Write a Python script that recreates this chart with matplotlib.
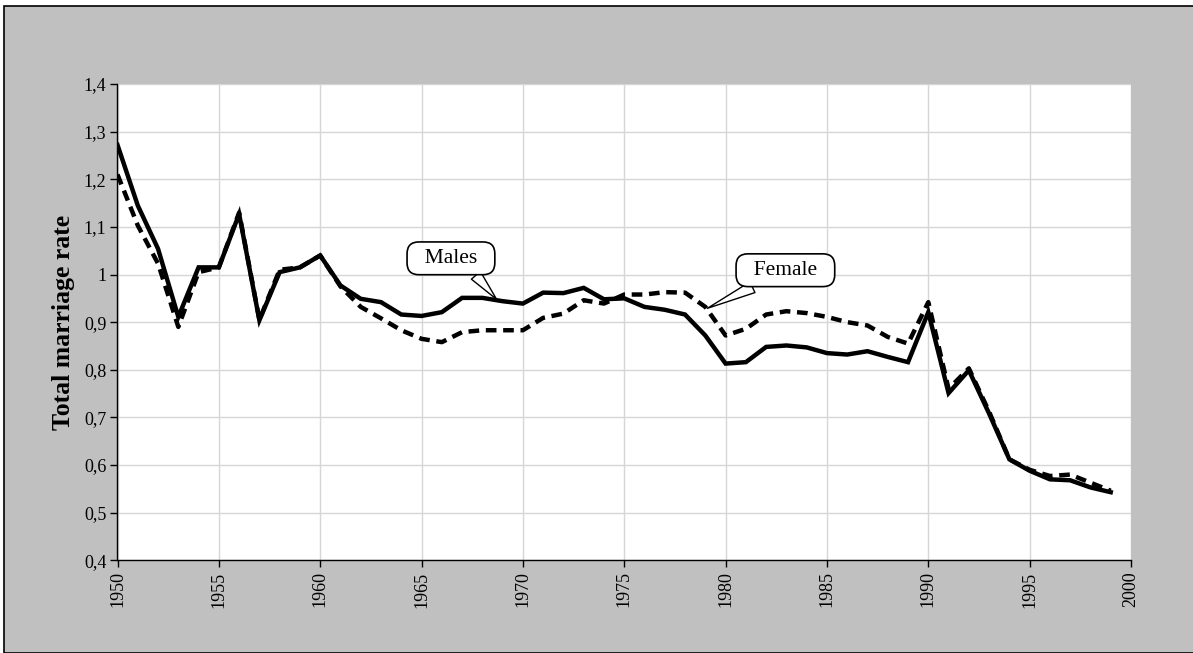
import numpy as np
import matplotlib
matplotlib.use("Agg")
import matplotlib.pyplot as plt
from matplotlib.patches import Rectangle
from matplotlib.ticker import FuncFormatter, MultipleLocator

# Data
years = list(range(1950, 2000))
males = [1.272, 1.145, 1.054, 0.911, 1.015, 1.015, 1.127, 0.904, 1.005, 1.015,
         1.040, 0.977, 0.949, 0.942, 0.916, 0.913, 0.921, 0.951, 0.951, 0.944,
         0.939, 0.962, 0.961, 0.972, 0.948, 0.950, 0.932, 0.926, 0.916, 0.872,
         0.813, 0.816, 0.848, 0.851, 0.847, 0.835, 0.832, 0.839, 0.827, 0.816,
         0.921, 0.751, 0.799, 0.708, 0.612, 0.588, 0.570, 0.568, 0.553, 0.543]
females = [1.210, 1.103, 1.023, 0.890, 1.005, 1.015, 1.130, 0.905, 1.010, 1.015,
           1.040, 0.975, 0.932, 0.908, 0.883, 0.865, 0.858, 0.879, 0.883, 0.883,
           0.883, 0.909, 0.918, 0.946, 0.939, 0.958, 0.958, 0.963, 0.962, 0.932,
           0.872, 0.886, 0.916, 0.923, 0.919, 0.911, 0.900, 0.893, 0.869, 0.855,
           0.942, 0.760, 0.803, 0.712, 0.612, 0.590, 0.577, 0.580, 0.563, 0.546]

GRAY = "#c0c0c0"
SERIF = ["Liberation Serif", "DejaVu Serif"]
plt.rcParams["font.family"] = SERIF

W, H = 1193, 653
fig = plt.figure(figsize=(W / 100, H / 100), dpi=100)
fig.patch.set_facecolor("white")

# gray chart area with black frame
fig.patches.append(Rectangle((4 / W, 0), 1.0, 1 - 6 / H, transform=fig.transFigure,
                             facecolor=GRAY, edgecolor="black", linewidth=1.2,
                             zorder=-10))

ax = fig.add_axes([117.5 / W, 1 - 560.3 / H, (1131 - 117.5) / W, (560.3 - 84) / H])
ax.set_facecolor("white")

ax.plot(years, females, color="black", linewidth=3.2, linestyle=(0, (2.4, 1.5)),
        solid_capstyle="butt", dash_capstyle="butt", zorder=3)
ax.plot(years, males, color="black", linewidth=3.2, solid_joinstyle="miter", zorder=4)

ax.set_xlim(1950, 2000)
ax.set_ylim(0.4, 1.4)
ax.xaxis.set_major_locator(MultipleLocator(5))
ax.yaxis.set_major_locator(MultipleLocator(0.1))
ax.yaxis.set_major_formatter(FuncFormatter(
    lambda v, p: ("%g" % round(v, 1)).replace(".", ",")))
ax.grid(True, color="#d6d6d6", linewidth=1.0, zorder=0)
ax.set_axisbelow(True)

for s in ["top", "right"]:
    ax.spines[s].set_visible(False)
for s in ["left", "bottom"]:
    ax.spines[s].set_color("black")
    ax.spines[s].set_linewidth(1.0)

ax.tick_params(axis="both", direction="out", length=5, width=1, colors="black",
               labelsize=13, pad=3)
plt.setp(ax.get_xticklabels(), rotation=90)

ax.set_ylabel("Total marriage rate", fontsize=18.5, fontweight="bold", labelpad=6)

# callouts
box = dict(boxstyle="round,pad=0.32,rounding_size=0.55", facecolor="white",
           edgecolor="black", linewidth=1.2)
ax.annotate("  Males  ", xy=(1968.7, 0.948), xytext=(1966.45, 1.034),
            fontsize=15.5, ha="center", va="center", bbox=box, zorder=6,
            arrowprops=dict(arrowstyle="wedge,tail_width=0.55", facecolor="white",
                            edgecolor="black", linewidth=1.0, shrinkA=0,
                            shrinkB=0, relpos=(0.75, 0.0)))
ax.annotate("  Female  ", xy=(1979.1, 0.929), xytext=(1982.95, 1.009),
            fontsize=15.5, ha="center", va="center", bbox=box, zorder=6,
            arrowprops=dict(arrowstyle="wedge,tail_width=0.55", facecolor="white",
                            edgecolor="black", linewidth=1.0, shrinkA=0,
                            shrinkB=0, relpos=(0.3, 0.0)))

fig.savefig("out.png", dpi=100, facecolor=fig.get_facecolor())
